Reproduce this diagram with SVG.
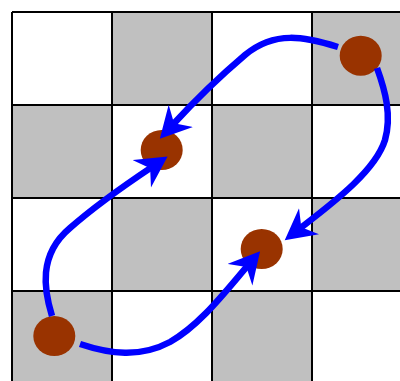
<svg xmlns="http://www.w3.org/2000/svg" width="400" height="381" viewBox="0 0 400 381">
  <style>
    .w { fill: #ffffff; }
    .g { fill: #c0c0c0; }
    .grid { stroke: #000000; stroke-width: 2; fill: none; }
    .dot { fill: #993300; }
    .conn { fill: none; stroke: #0000ff; stroke-width: 6.5; stroke-linecap: butt; marker-end: url(#arrow); }
  </style>
  <defs>
    <marker id="arrow" markerUnits="userSpaceOnUse" markerWidth="32" markerHeight="34" refX="12" refY="16.5" orient="auto" viewBox="0 0 32 34">
      <path d="M31,16.5 L0,0 L10,16.5 L0,33 Z" fill="#0000ff"/>
    </marker>
  </defs>
  <rect width="400" height="381" fill="#ffffff"/>
  <g id="board">
    <rect class="w" x="12" y="12" width="100" height="93"/>
    <rect class="g" x="112" y="12" width="100" height="93"/>
    <rect class="w" x="212" y="12" width="100" height="93"/>
    <rect class="g" x="312" y="12" width="100" height="93"/>
    <rect class="g" x="12" y="105" width="100" height="93"/>
    <rect class="w" x="112" y="105" width="100" height="93"/>
    <rect class="g" x="212" y="105" width="100" height="93"/>
    <rect class="w" x="312" y="105" width="100" height="93"/>
    <rect class="w" x="12" y="198" width="100" height="93"/>
    <rect class="g" x="112" y="198" width="100" height="93"/>
    <rect class="w" x="212" y="198" width="100" height="93"/>
    <rect class="g" x="312" y="198" width="100" height="93"/>
    <rect class="g" x="12" y="291" width="100" height="93"/>
    <rect class="w" x="112" y="291" width="100" height="93"/>
    <rect class="g" x="212" y="291" width="100" height="93"/>
    <rect class="w" x="312" y="291" width="100" height="93"/>
    <path class="grid" d="M12,12 V384 M112,12 V384 M212,12 V384 M312,12 V384 M12,12 H412 M12,105 H412 M12,198 H412 M12,291 H412"/>
  </g>
  <g id="node-a"><ellipse class="dot" cx="360.7" cy="55.7" rx="21" ry="20"/></g>
  <g id="node-b"><ellipse class="dot" cx="161.7" cy="150" rx="21" ry="20"/></g>
  <g id="node-c"><ellipse class="dot" cx="261.7" cy="249" rx="21" ry="20"/></g>
  <g id="node-d"><ellipse class="dot" cx="54.3" cy="336" rx="21" ry="20"/></g>
  <g id="connectors">
    <path class="conn" d="M338,47 C305,37 275,30 245,55 C225,72 200,95 172.7,124.7"/>
    <path class="conn" d="M377,68 C385,90 392,115 385,140 C375,172 330,205 299.7,228.6"/>
    <path class="conn" d="M52,316 C44,290 38,255 70,228 C95,206 125,185 151.8,167.1"/>
    <path class="conn" d="M80,344 C110,354 140,358 170,342 C200,325 225,292 247.7,265.6"/>
  </g>
</svg>
